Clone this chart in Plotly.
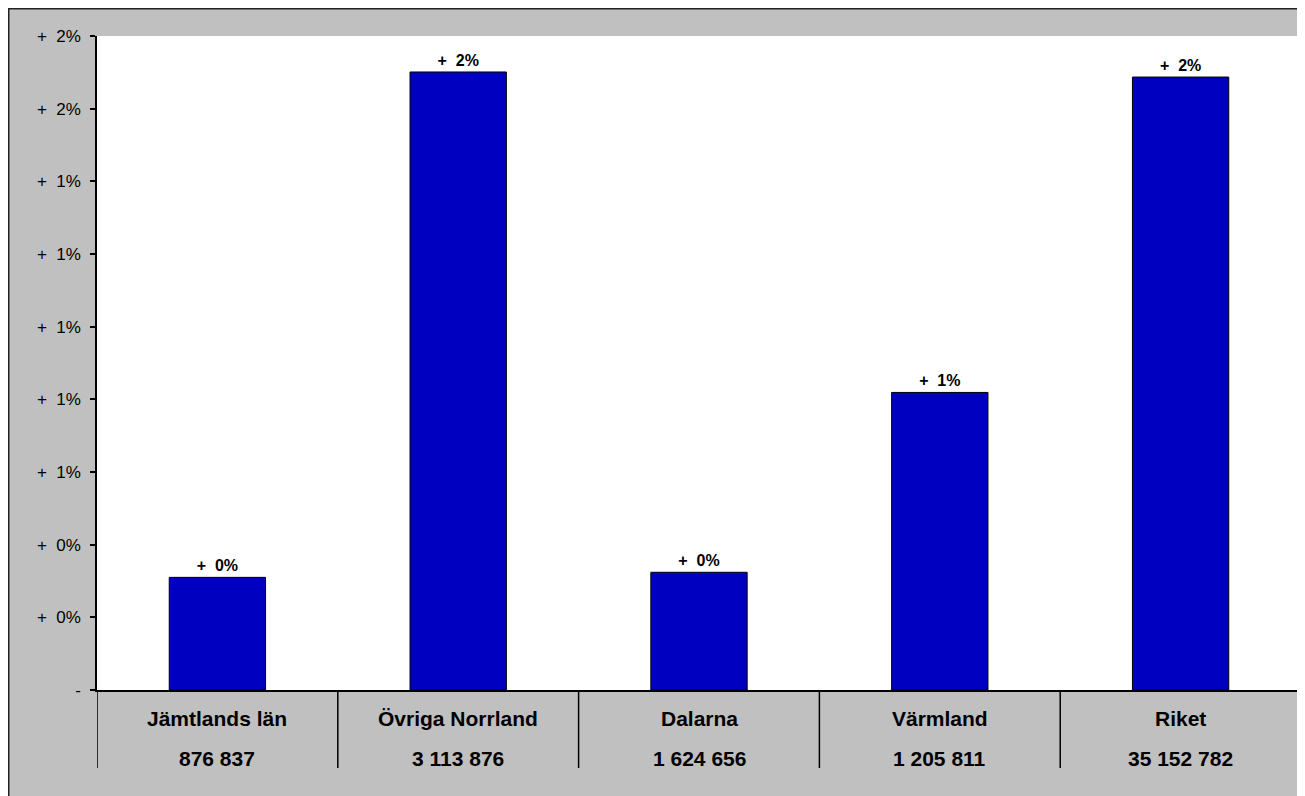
import plotly.graph_objects as go

categories = ["Jämtlands län", "Övriga Norrland", "Dalarna", "Värmland", "Riket"]
population = ["876 837", "3 113 876", "1 624 656", "1 205 811", "35 152 782"]
growth_pct = [0.310, 1.701, 0.324, 0.819, 1.687]
bar_labels = ["+\u00a0\u00a00%", "+\u00a0\u00a02%", "+\u00a0\u00a00%", "+\u00a0\u00a01%", "+\u00a0\u00a02%"]
y_tickvals = [0, 0.2, 0.4, 0.6, 0.8, 1.0, 1.2, 1.4, 1.6, 1.8]
y_ticktext = ["-", "+\u00a0\u00a00%", "+\u00a0\u00a00%", "+\u00a0\u00a01%", "+\u00a0\u00a01%",
              "+\u00a0\u00a01%", "+\u00a0\u00a01%", "+\u00a0\u00a01%", "+\u00a0\u00a02%", "+\u00a0\u00a02%"]

# page has an 8px body margin, so the figure starts at (8, 8) of the window
W, H = 1297, 788
L, R, T, B = 89, 4, 28, 106
PW, PH = W - L - R, H - T - B


def px_y(p):
    # p in figure pixel coordinates (from figure top)
    return (H - B - p) / PH


def px_x(p):
    return (p - L) / PW


FONT = "Liberation Sans, Arial, sans-serif"

fig = go.Figure()
fig.add_trace(go.Bar(
    x=list(range(len(categories))),
    y=growth_pct,
    text=bar_labels,
    textposition="outside",
    textfont=dict(family=FONT, size=16, color="black", weight="bold"),
    marker=dict(color="#0000C0", line=dict(color="black", width=1)),
    cliponaxis=False,
    width=0.4,
))

shapes = []
# border on left and top edges of the figure
shapes.append(dict(type="line", xref="paper", yref="paper", x0=px_x(0), x1=px_x(W + 5),
                   y0=px_y(0.5), y1=px_y(0.5), line=dict(color="#222222", width=2)))
shapes.append(dict(type="line", xref="paper", yref="paper", x0=px_x(0.5), x1=px_x(0.5),
                   y0=px_y(0), y1=px_y(H + 5), line=dict(color="#222222", width=2)))
# category separators
for i in range(len(categories) + 1):
    shapes.append(dict(type="line", xref="x", yref="paper", x0=i - 0.5, x1=i - 0.5,
                       y0=0, y1=px_y(760), line=dict(color="black", width=1.5)))

annotations = []
for i, (c, p) in enumerate(zip(categories, population)):
    annotations.append(dict(x=i, xref="x", y=px_y(710), yref="paper", text=c, showarrow=False,
                            font=dict(family=FONT, size=21, color="black", weight="bold"),
                            xanchor="center", yanchor="middle"))
    annotations.append(dict(x=i, xref="x", y=px_y(750), yref="paper", text=p, showarrow=False,
                            font=dict(family=FONT, size=21, color="black", weight="bold"),
                            xanchor="center", yanchor="middle"))

fig.update_layout(
    width=W, height=H,
    margin=dict(l=L, r=R, t=T, b=B, pad=0),
    paper_bgcolor="#C0C0C0",
    plot_bgcolor="white",
    showlegend=False,
    shapes=shapes,
    annotations=annotations,
    xaxis=dict(range=[-0.5, len(categories) - 0.5], showticklabels=False, ticks="",
               showgrid=False, zeroline=False, showline=True, linecolor="black", linewidth=1.5),
    yaxis=dict(range=[0, 1.8], tickvals=y_tickvals, ticktext=y_ticktext, ticks="outside",
               ticklen=5, tickcolor="black", tickwidth=1.5, showgrid=False, zeroline=False,
               showline=True, linecolor="black", linewidth=1.5, ticklabelstandoff=6,
               tickfont=dict(family=FONT, size=17, color="black")),
)

fig.write_html("out.html")
